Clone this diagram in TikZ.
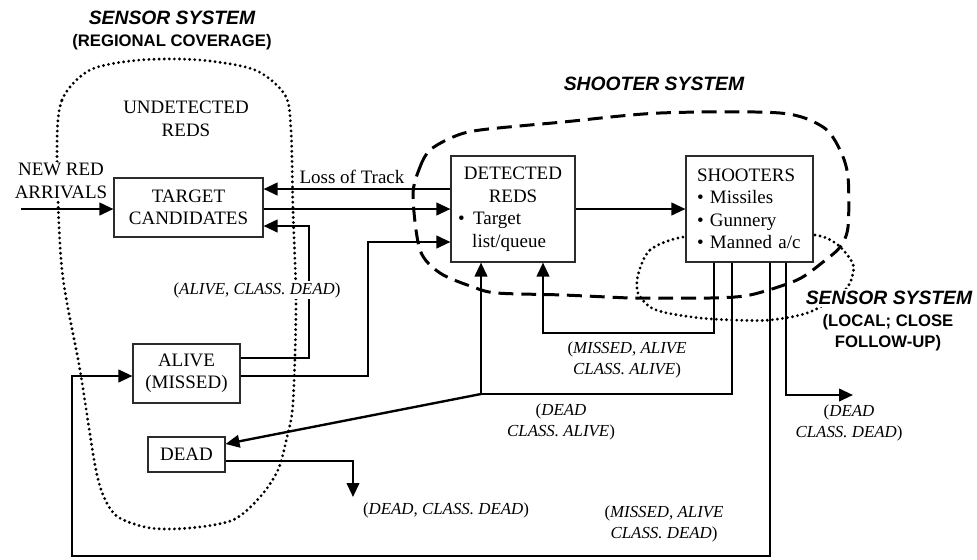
\documentclass[tikz,border=0pt]{standalone}
\usepackage{fontspec}
\setmainfont{Liberation Serif}
\setsansfont{Liberation Sans}
\usepackage{xcolor}
\definecolor{encreNoire}{HTML}{000000}
\definecolor{cadreGris}{HTML}{2B2B2B}
\usepackage{tikz}
\usetikzlibrary{arrows.meta}
\tikzset{
  %% ── Boxes ────────────────────────────────────────────────────────────
  %% One box weight only: every state of a red target is drawn the same way.
  boite/.style      = {draw=cadreGris, line width=0.6pt, fill=white,
                       inner sep=2pt, align=center,
                       font=\fontsize{10.8}{12.8}\selectfont},
  %%
  %% ── Arrows ───────────────────────────────────────────────────────────
  fleche/.style     = {-{Triangle[length=2.8mm, width=2.5mm]}, draw=encreNoire,
                       line width=1.35pt},
  %%
  %% ── Regions ──────────────────────────────────────────────────────────
  %% Sensor coverage is dotted, the shooter system is dashed.
  zoneCapteur/.style = {draw=encreNoire, line width=1.8pt, line cap=round,
                       dash pattern=on 0pt off 2.9pt},
  zoneTir/.style    = {draw=encreNoire, line width=1.7pt,
                       dash pattern=on 8.5pt off 4.5pt},
  %%
  %% ── Text ─────────────────────────────────────────────────────────────
  etat/.style       = {font=\fontsize{9.6}{11.6}\selectfont, align=center,
                       inner sep=1pt},
  texteLibre/.style = {font=\fontsize{10.8}{12.8}\selectfont, align=center,
                       inner sep=1pt},
  titreSysteme/.style = {font=\sffamily\bfseries\itshape\fontsize{11}{13}\selectfont,
                       inner sep=1pt},
  sousTitre/.style  = {font=\sffamily\bfseries\fontsize{9.5}{12}\selectfont,
                       align=center, inner sep=1pt},
}

\begin{document}
\begin{tikzpicture}[x=0.02cm, y=-0.02cm,
    liste/.style = {boite, align=left, minimum height=2.12cm}]

\useasboundingbox (0,0) rectangle (977,559);

%% regions, behind everything
\draw[zoneCapteur] plot[smooth cycle] coordinates {
  (57,153) (62,100) (90,70) (140,60) (200,60) (255,70) (285,95) (291,130)
  (293,210) (296,303) (293,403) (287,437) (278,470) (260,497) (233,520)
  (190,528) (150,528) (118,517) (104,497) (95,465) (80,370) (62,270)};
\draw[zoneTir] plot[smooth cycle] coordinates {
  (413,195) (420,167) (430,150) (453,137) (480,130) (563,122) (660,113)
  (780,113) (823,127) (840,150) (848,177) (848,227) (840,247) (823,262)
  (797,280) (750,295) (710,298) (650,298) (630,298) (563,295) (497,293)
  (473,287) (440,273) (420,250)};
\draw[zoneCapteur] plot[smooth cycle] coordinates {
  (638,275) (650,250) (683,237) (750,232) (815,235) (838,245) (852,262)
  (853,273) (845,290) (810,312) (770,320) (733,320) (700,318) (667,313)
  (650,307) (638,293)};

%% states
\node[boite, minimum width=2.98cm, minimum height=1.18cm] (cible) at (188.5,207.5)
     {TARGET\\CANDIDATES};
\node[liste, minimum width=2.48cm, text width=2.2cm] (detect) at (513,209)
     {\hfil DETECTED\\\hfil REDS\\\textbullet\hspace{0.45em}Target\\\hspace*{0.75em}list/queue};
\node[liste, minimum width=2.54cm, text width=2.1cm] (tireurs) at (749.5,209)
     {SHOOTERS\\\textbullet{} Missiles\\\textbullet{} Gunnery\\\textbullet{} Manned a/c};
\node[boite, minimum width=2.14cm, minimum height=1.18cm] (vivant) at (186.5,373.5)
     {ALIVE\\(MISSED)};
\node[boite, minimum width=1.54cm, minimum height=0.7cm] (mort) at (186.5,454.5)
     {DEAD};

\coordinate (arrivee) at (21,209);
\coordinate (sortieMorte) at (853,395);
\coordinate (chuteMorte) at (353,497);
\coordinate (fourche) at (481,394);

%% flows
\draw[fleche] (arrivee) -- (arrivee -| cible.west);
\draw[fleche] (detect.west |- 0,189) -- (cible.east |- 0,189);
\draw[fleche] (cible.east |- detect.west) -- (detect.west);
\draw[fleche] (vivant.east |- 0,358) -| (309,226) -- (cible.east |- 0,226);
\draw[fleche] (vivant.east |- 0,376) -| (368,242) -- (detect.west |- 0,242);
\draw[fleche] (detect.east) -- (tireurs.west);

\draw[fleche] (tireurs.south -| 714,0) |- (543,333) -- (detect.south -| 543,0);
\draw[fleche] (tireurs.south -| 732,0) |- (fourche) -- (detect.south -| fourche);
\draw[fleche] (fourche) -- (mort.east |- 0,444);
\draw[fleche] (tireurs.south -| 770,0) |- (72,556) |- (vivant.west |- 0,376);
\draw[fleche] (tireurs.south -| 786,0) |- (sortieMorte);
\draw[fleche] (mort.east |- 0,461) -| (chuteMorte);

%% labels
\node[texteLibre, fill=white] (nouveaux) at (61,181) {NEW RED\\ARRIVALS};
\node[texteLibre] (nonDetect) at (186,119) {UNDETECTED\\REDS};
\node[texteLibre] (perte) at (352,177) {Loss of Track};

\node[etat, fill=white] (etatA) at (257,290) {(\textit{ALIVE, CLASS. DEAD})};
\node[etat] (etatB) at (627,360) {(\textit{MISSED, ALIVE}\\\textit{CLASS. ALIVE})};
\node[etat] (etatC) at (561,422) {(\textit{DEAD}\\\textit{CLASS. ALIVE})};
\node[etat] (etatD) at (849,423) {(\textit{DEAD}\\\textit{CLASS. DEAD})};
\node[etat] (etatE) at (446,510) {(\textit{DEAD, CLASS. DEAD})};
\node[etat] (etatF) at (664,524) {(\textit{MISSED, ALIVE}\\\textit{CLASS. DEAD})};

\node[titreSysteme] (capteurTitre) at (172,18) {SENSOR SYSTEM};
\node[sousTitre] (capteurSous) at (172,42) {(REGIONAL COVERAGE)};
\node[titreSysteme] (tirTitre) at (654,84) {SHOOTER SYSTEM};
\node[titreSysteme, fill=white] (localTitre) at (889,298) {SENSOR SYSTEM};
\node[sousTitre, fill=white] (localSous) at (888,333) {(LOCAL; CLOSE\\FOLLOW-UP)};

\end{tikzpicture}
\end{document}
